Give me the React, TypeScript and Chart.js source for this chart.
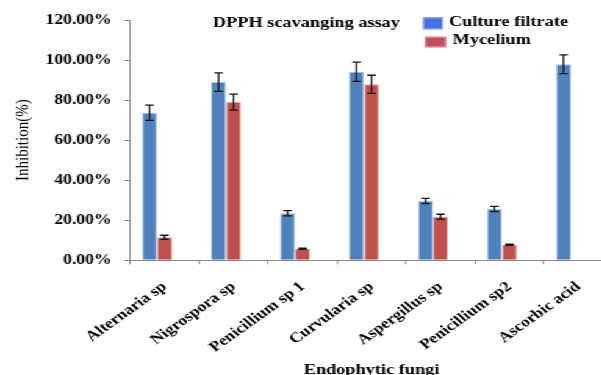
import React, { useEffect, useRef } from 'react';
import { Chart, registerables } from 'chart.js';

Chart.register(...registerables);

const categories = [
  'Alternaria sp',
  'Nigrospora sp',
  'Penicillium sp 1',
  'Curvularia sp',
  'Aspergillus sp',
  'Penicillium sp2',
  'Ascorbic acid',
];
const seriesNames = ['Culture filtrate', 'Mycelium'];
const cultureFiltrate = [73.7, 89.0, 23.5, 94.2, 29.6, 25.6, 97.9];
const cultureErr = [3.8, 4.6, 1.3, 4.8, 1.3, 1.3, 4.7];
const mycelium = [11.5, 79.0, 5.8, 87.9, 21.8, 7.8, null];
const myceliumErr = [1.0, 4.0, 0.3, 4.5, 1.2, 0.3, null];
const emptySeries = [null, null, null, null, null, null, null];
const yMin = 0;
const yMax = 120;
const yStep = 20;
const chartTitle = 'DPPH scavanging assay';
const xTitle = 'Endophytic fungi';
const yTitle = 'Inhibition(%)';

const SX = 1.22;
const W = 520;
const H = 375;
const FONT = "'Liberation Serif', 'Times New Roman', serif";

const errorBarsPlugin = {
  id: 'errorBars',
  afterDatasetsDraw(chart: any) {
    const errs = [cultureErr, myceliumErr];
    const y = chart.scales.y;
    const ctx = chart.ctx;
    ctx.save();
    ctx.strokeStyle = '#151515';
    ctx.lineWidth = 1.3;
    errs.forEach((arr, di) => {
      const meta = chart.getDatasetMeta(di);
      const data = chart.data.datasets[di].data;
      meta.data.forEach((el: any, j: number) => {
        const v = data[j];
        const e = arr[j];
        if (v == null || e == null) return;
        const x = el.x;
        const t = y.getPixelForValue(v + e);
        const b = y.getPixelForValue(v - e);
        const cap = 3.5;
        ctx.beginPath();
        ctx.moveTo(x, t);
        ctx.lineTo(x, b);
        ctx.moveTo(x - cap, t);
        ctx.lineTo(x + cap, t);
        ctx.moveTo(x - cap, b);
        ctx.lineTo(x + cap, b);
        ctx.stroke();
      });
    });
    ctx.restore();
  },
};

const legendPlugin = {
  id: 'customLegendTitle',
  afterDraw(chart: any) {
    const ctx = chart.ctx;
    ctx.save();
    ctx.fillStyle = '#000';
    ctx.textBaseline = 'middle';
    ctx.textAlign = 'left';
    ctx.font = `bold 15px ${FONT}`;
    ctx.fillText(chartTitle, 174.5, 23);
    const items = [
      { label: seriesNames[0], color: '#4b6fe4', border: '#8fb0f0', bx: 346.7, by: 17.3, bw: 16.4, bh: 12, tx: 368, ty: 22.5 },
      { label: seriesNames[1], color: '#c84a5c', border: '#e09aa5', bx: 348.4, by: 36.7, bw: 17.2, bh: 10.6, tx: 371, ty: 40 },
    ];
    items.forEach((it) => {
      ctx.fillStyle = it.color;
      ctx.fillRect(it.bx, it.by, it.bw, it.bh);
      ctx.strokeStyle = it.border;
      ctx.lineWidth = 1;
      ctx.strokeRect(it.bx + 0.5, it.by + 0.5, it.bw - 1, it.bh - 1);
      ctx.fillStyle = '#000';
      ctx.fillText(it.label, it.tx, it.ty);
    });
    ctx.restore();
  },
};

export default function App() {
  const ref = useRef<HTMLCanvasElement | null>(null);

  useEffect(() => {
    if (!ref.current) return;
    const chart = new Chart(ref.current, {
      type: 'bar',
      data: {
        labels: categories,
        datasets: [
          {
            label: seriesNames[0],
            data: cultureFiltrate,
            backgroundColor: '#4f81bd',
            borderColor: '#a9c2e2',
            borderWidth: 1,
          },
          {
            label: seriesNames[1],
            data: mycelium,
            backgroundColor: '#c0504d',
            borderColor: '#e4a6a4',
            borderWidth: 1,
          },
          {
            label: '',
            data: emptySeries,
            backgroundColor: 'rgba(0,0,0,0)',
          },
        ],
      },
      options: {
        responsive: false,
        animation: false,
        devicePixelRatio: 1,
        layout: { padding: { top: 20, right: 17.5, bottom: 0, left: 0 } },
        datasets: {
          bar: { categoryPercentage: 0.653, barPercentage: 1 },
        },
        plugins: {
          legend: { display: false },
          title: { display: false },
          tooltip: { enabled: false },
        },
        scales: {
          x: {
            offset: true,
            grid: {
              offset: true,
              drawOnChartArea: false,
              drawTicks: true,
              tickLength: 4,
              color: '#8a8a8a',
            },
            border: { display: true, color: '#8a8a8a', width: 1 },
            ticks: {
              minRotation: 41,
              maxRotation: 41,
              autoSkip: false,
              padding: 14,
              color: '#000',
              font: { family: FONT, size: 14.5, weight: 'bold' },
            },
            title: {
              display: true,
              text: xTitle,
              color: '#000',
              font: { family: FONT, size: 15, weight: 'bold' },
              padding: { top: 0, bottom: -4 },
            },
            afterFit: (s: any) => {
              s.height = H - 260.3;
            },
          },
          y: {
            min: yMin,
            max: yMax,
            ticks: {
              stepSize: yStep,
              padding: 10,
              color: '#000',
              font: { family: FONT, size: 14.5, weight: 'bold' },
              callback: (v: any) => Number(v).toFixed(2) + '%',
            },
            grid: {
              drawOnChartArea: false,
              drawTicks: true,
              tickLength: 5,
              color: '#8a8a8a',
            },
            border: { display: true, color: '#8a8a8a', width: 1 },
            title: {
              display: true,
              text: yTitle,
              color: '#000',
              font: { family: FONT, size: 15, weight: 'normal' },
              padding: { top: 10, bottom: 0 },
            },
            afterFit: (s: any) => {
              s.width = 106.6;
            },
          },
        },
      },
      plugins: [errorBarsPlugin, legendPlugin],
    } as any);
    return () => chart.destroy();
  }, []);

  return (
    <div
      style={{
        position: 'fixed',
        left: 0,
        top: 0,
        width: W,
        height: H,
        transform: `scaleX(${SX})`,
        transformOrigin: '0 0',
        background: '#fff',
      }}
    >
      <canvas
        ref={ref}
        width={W}
        height={H}
        style={{ width: `${W}px`, height: `${H}px`, display: 'block' }}
      />
    </div>
  );
}
